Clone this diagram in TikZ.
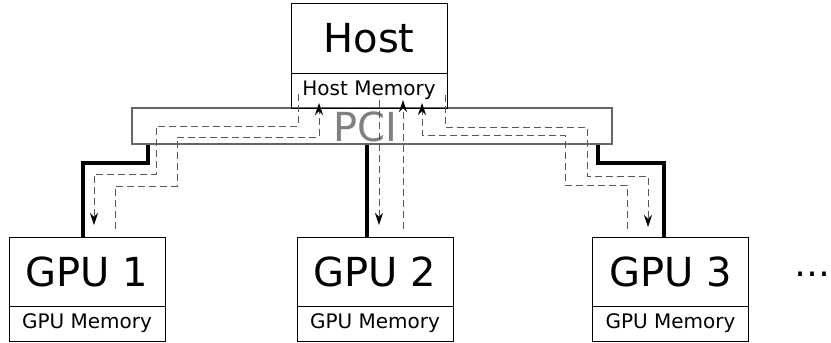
\documentclass[tikz,border=0pt]{standalone}
\usepackage{fontspec}
\setmainfont{DejaVu Sans}
\usetikzlibrary{arrows.meta}

\begin{document}
\begin{tikzpicture}[x=1pt,y=-1pt,>={Stealth[length=12pt,width=8pt,inset=4pt,black]}]
\tikzset{box/.style={draw,line width=1pt,inner sep=0pt,minimum width=156pt},
  big/.style={font=\fontsize{40}{40}\selectfont},
  small/.style={font=\fontsize{20}{20}\selectfont},
  bus/.style={line width=4.5pt,color=black},
  flow/.style={->,line width=1pt,color=black!65,dash pattern=on 7pt off 4pt}};

\useasboundingbox (0,0) rectangle (831,343);

% pci bus and host
\node[draw=black!60,line width=1.3pt,fill=white,inner sep=0pt,
  minimum width=480pt,minimum height=36pt] (pci) at (372,126) {};
\node[box,big,minimum height=70pt] (host) at (369,38) {Host};
\node[box,small,minimum height=35pt] (hostmem) at (369,90.5) {Host Memory};
\node[big,text=black!50] (pcilabel) at (365,127) {PCI};

% gpus
\foreach \i/\x in {1/87,2/375,3/670.5} {
  \node[box,big,minimum height=69pt] (gpu\i) at (\x,271.5) {GPU \i};
  \node[box,small,minimum height=35pt] (mem\i) at (\x,323.5) {GPU Memory};
}
\node[font=\fontsize{36}{36}\selectfont,inner sep=0pt,anchor=base] (more) at (812,276) {…};

% links
\draw[bus] ([xshift=-224pt]pci.south) |- (83,163) -- ([xshift=-4pt]gpu1.north);
\draw[bus] ([xshift=-5pt]pci.south) -- ([xshift=-8pt]gpu2.north);
\draw[bus] ([xshift=226pt]pci.south) |- (664,163) -- ([xshift=-6.5pt]gpu3.north);

% transfer paths
\coordinate (h1) at (298,94);
\coordinate (h2) at (319,103);
\coordinate (h3) at (379,100);
\coordinate (h4) at (403,100);
\coordinate (h5) at (445,95);
\coordinate (h6) at (422,103);
\coordinate (g1in) at (94,225);
\coordinate (g1out) at (115,229);
\coordinate (g2in) at (379,225);
\coordinate (g2out) at (403,229);
\coordinate (g3in) at (648,227);
\coordinate (g3out) at (627,229);

\draw[flow] (h1) |- (156,126) |- (94,174) -- (g1in);
\draw[flow] (g1out) |- (177,186) |- (319,137) -- (h2);
\draw[flow] (h3) -- (g2in);
\draw[flow] (g2out) -- (h4);
\draw[flow] (h5) |- (587,127) |- (648,176) -- (g3in);
\draw[flow] (g3out) |- (565,185) |- (422,135) -- (h6);
\end{tikzpicture}
\end{document}
